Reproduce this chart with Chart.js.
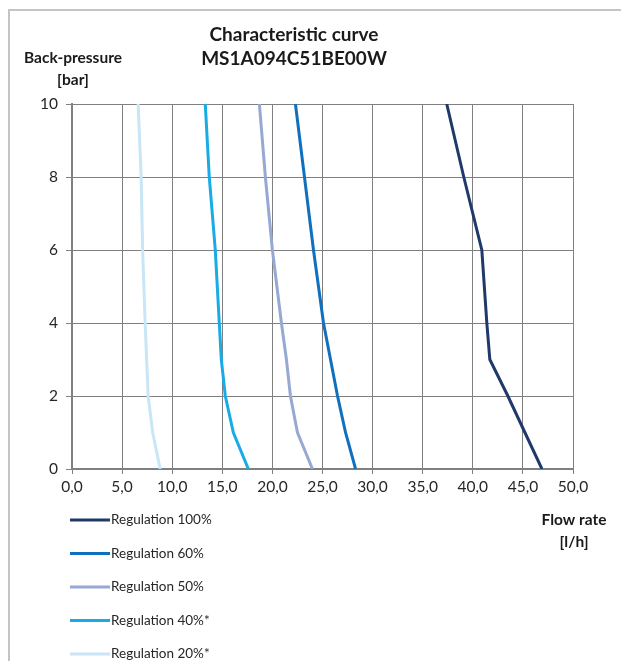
<!DOCTYPE html>
<html>
<head>
<meta charset="utf-8">
<script src="https://cdn.jsdelivr.net/npm/chart.js@4.4.0/dist/chart.umd.min.js"></script>
<style>
  html, body { margin: 0; padding: 0; background: #fff; }
  #wrap { width: 621px; height: 661px; position: relative; }
</style>
</head>
<body>
<div id="wrap"><canvas id="myChart" width="621" height="661"></canvas></div>
<script>
// back-pressure points [bar], shared by all curves
const pressure = [0, 1, 2, 3, 4, 6, 8, 10];
// flow rate [l/h] at each pressure
const reg100 = [46.9, 45.2, 43.5, 41.7, 41.4, 40.9, 39.1, 37.4];
const reg60 = [28.3, 27.3, 26.5, 25.8, 25.1, 24.1, 23.2, 22.3];
const reg50 = [24.0, 22.5, 21.8, 21.4, 20.9, 20.0, 19.3, 18.7];
const reg40 = [17.6, 16.1, 15.3, 14.9, 14.7, 14.3, 13.7, 13.3];
const reg20 = [8.8, 8.05, 7.6, 7.45, 7.3, 7.05, 6.9, 6.6];
const seriesLabels = ['Regulation 100%', 'Regulation 60%', 'Regulation 50%', 'Regulation 40%*', 'Regulation 20%*'];
const seriesColors = ['#1f3a6a', '#1170bd', '#97a9d2', '#18ace6', '#c8e6f5'];

const FONT = 'Lato, "Open Sans", sans-serif';

function toPoints(flow) {
  return flow.map((f, i) => ({ x: f, y: pressure[i] }));
}

// frame, axis titles and a vertical legend at the bottom left
const extras = {
  id: 'extras',
  beforeDraw(chart) {
    const ctx = chart.ctx;
    ctx.save();
    ctx.fillStyle = '#fff';
    ctx.fillRect(0, 0, chart.width, chart.height);
    ctx.strokeStyle = '#c4c4c4';
    ctx.lineWidth = 2;
    ctx.beginPath();
    ctx.moveTo(9, chart.height);
    ctx.lineTo(9, 10);
    ctx.lineTo(chart.width, 10);
    ctx.stroke();
    ctx.restore();
  },
  afterDraw(chart) {
    const ctx = chart.ctx;
    ctx.save();
    ctx.fillStyle = '#1a1a1a';
    ctx.textAlign = 'center';
    ctx.textBaseline = 'middle';
    ctx.font = 'bold 19px ' + FONT;
    ctx.fillText('Characteristic curve', 294, 35);
    ctx.fillText('MS1A094C51BE00W', 294, 59);
    ctx.font = 'bold 15.5px ' + FONT;
    ctx.fillText('Back-pressure', 73, 58);
    ctx.fillText('[bar]', 73, 80);
    ctx.fillText('Flow rate', 574, 520);
    ctx.fillText('[l/h]', 574, 542);

    ctx.textAlign = 'left';
    ctx.font = '13.5px ' + FONT;
    chart.data.datasets.forEach((ds, i) => {
      const y = 520 + i * 33.5;
      ctx.strokeStyle = ds.borderColor;
      ctx.lineWidth = 3;
      ctx.beginPath();
      ctx.moveTo(70, y);
      ctx.lineTo(110, y);
      ctx.stroke();
      ctx.fillStyle = '#262626';
      ctx.fillText(ds.label, 111, y);
    });
    ctx.restore();
  }
};

const datasets = [reg100, reg60, reg50, reg40, reg20].map((flow, i) => ({
  label: seriesLabels[i],
  data: toPoints(flow),
  borderColor: seriesColors[i],
  backgroundColor: seriesColors[i],
  borderWidth: 3,
  pointRadius: 0,
  tension: 0,
  fill: false
}));

new Chart(document.getElementById('myChart'), {
  type: 'line',
  data: { datasets: datasets },
  options: {
    responsive: false,
    animation: false,
    layout: { padding: { left: 0, top: 104, right: 48, bottom: 162 } },
    plugins: {
      legend: { display: false },
      tooltip: { enabled: false },
      title: { display: false }
    },
    scales: {
      x: {
        type: 'linear',
        min: 0,
        max: 50,
        afterFit(scale) { scale.height = 30; },
        ticks: {
          stepSize: 5,
          color: '#262626',
          font: { family: FONT, size: 15.5 },
          padding: 4,
          maxRotation: 0,
          callback: (v) => v.toFixed(1).replace('.', ',')
        },
        grid: { color: '#808080', lineWidth: 1, tickLength: 5 },
        border: { color: '#808080', width: 2 }
      },
      y: {
        type: 'linear',
        min: 0,
        max: 10,
        afterFit(scale) { scale.width = 72; },
        ticks: {
          stepSize: 2,
          color: '#262626',
          font: { family: FONT, size: 15.5 },
          padding: 8
        },
        grid: { color: '#808080', lineWidth: 1, tickLength: 6 },
        border: { color: '#808080', width: 2 }
      }
    }
  },
  plugins: [extras]
});
</script>
</body>
</html>
